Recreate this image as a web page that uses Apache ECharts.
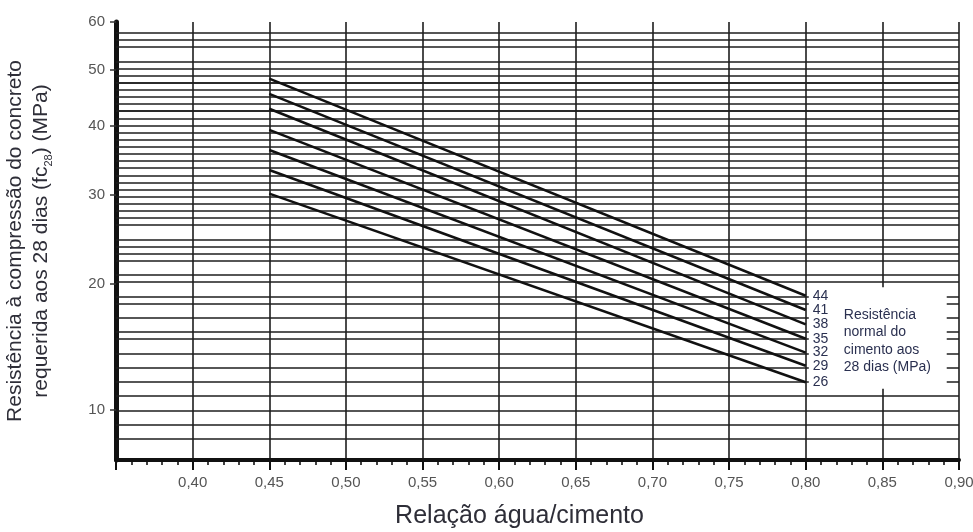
<!DOCTYPE html>
<html><head><meta charset="utf-8">
<script src="https://cdn.jsdelivr.net/npm/echarts@6/dist/echarts.min.js"></script>
<style>html,body{margin:0;padding:0;background:#fff}#c{width:973px;height:532px}</style>
</head><body><div id="c"></div>
<script>
// ---- data ----
const cementStrengths = ['44', '41', '38', '35', '32', '29', '26'];   // MPa, 28 days
const waterCementRatio = [0.45, 0.80];
const fcAtStart = [48.3, 45.5, 42.9, 39.4, 36.3, 33.4, 30.2];          // at a/c = 0.45
const fcAtEnd   = [18.9, 17.6, 16.35, 15.15, 14.05, 13.05, 11.85];      // at a/c = 0.80
const yTickLabels = [10, 20, 30, 40, 50, 60];
const xTickLabels = ['0,40', '0,45', '0,50', '0,55', '0,60', '0,65', '0,70', '0,75', '0,80', '0,85', '0,90'];
const gridValues = [7, 8, 9, 10, 11, 12, 13, 14, 15, 16, 17, 18, 19, 20, 21, 22, 23, 24, 25, 26, 27, 28, 29, 30,
  31, 32, 33, 34, 35, 36, 37, 38, 39, 40, 41, 42, 43, 44, 45, 46, 47, 48, 49, 50, 52, 54, 56, 58, 60];
const legendText = ['Resistência', 'normal do', 'cimento aos', '28 dias (MPa)'];

// ---- scale transform of the printed nomogram axis: log(fc + 10) ----
const OFFSET = 10;
const T = v => Math.log10(v + OFFSET);
const inv = t => Math.pow(10, t) - OFFSET;

const FONT = 'Liberation Sans, Arial, sans-serif';
const chart = echarts.init(document.getElementById('c'));

const lineSeries = cementStrengths.map((name, i) => ({
  name: name,
  type: 'line',
  z: 6,
  symbol: 'none',
  silent: true,
  lineStyle: { color: '#111', width: 2.6 },
  data: [[waterCementRatio[0], T(fcAtStart[i])], [waterCementRatio[1], T(fcAtEnd[i])]],
  endLabel: { show: true, formatter: '{a}', color: '#2a3050', fontSize: 14, fontFamily: FONT, distance: 7 }
}));

chart.setOption({
  animation: false,
  backgroundColor: '#fff',
  grid: { left: 116, right: 14, top: 22, bottom: 72, containLabel: false, outerBoundsMode: 'none' },
  xAxis: {
    type: 'value', min: 0.35, max: 0.90, interval: 0.05,
    name: 'Relação água/cimento', nameLocation: 'middle', nameGap: 44,
    nameTextStyle: { fontSize: 25, color: '#2e2e38', fontFamily: FONT, padding: [0, 36, 0, 0] },
    axisLine: { show: true, onZero: false, lineStyle: { color: '#111', width: 4 } },
    axisTick: { show: true, inside: false, length: 10, lineStyle: { color: '#111', width: 2 } },
    minorTick: { show: true, splitNumber: 5, length: 5, lineStyle: { color: '#111', width: 1.6 } },
    axisLabel: {
      color: '#555', fontSize: 15, fontFamily: FONT, margin: 15,
      formatter: v => { const k = Math.round((v - 0.40) / 0.05); return (k >= 0 && k < xTickLabels.length) ? xTickLabels[k] : ''; }
    },
    splitLine: { show: true, lineStyle: { color: '#1e1e1e', width: 1.6 } }
  },
  yAxis: {
    type: 'value', min: T(7), max: T(60),
    name: 'Resistência à compressão do concreto\nrequerida aos 28 dias (fc{sub|28}) (MPa)',
    nameLocation: 'middle', nameRotate: 90, nameGap: 62,
    nameTextStyle: {
      fontSize: 21, lineHeight: 26, color: '#2e2e38', fontFamily: FONT,
      rich: { sub: { fontSize: 11, lineHeight: 12, verticalAlign: 'bottom', color: '#2e2e38', fontFamily: FONT } }
    },
    axisLine: { show: true, onZero: false, lineStyle: { color: '#111', width: 5 } },
    axisTick: { show: true, inside: false, length: 6, customValues: yTickLabels.map(T), lineStyle: { color: '#333', width: 1.5 } },
    axisLabel: {
      customValues: yTickLabels.map(T), color: '#555', fontSize: 15, fontFamily: FONT, margin: 11,
      formatter: v => String(Math.round(inv(v)))
    },
    splitLine: { show: false }
  },
  series: [
    {
      name: 'grid', type: 'line', data: [], z: 1, silent: true,
      markLine: {
        silent: true, z: 1, symbol: ['none', 'none'], label: { show: false },
        lineStyle: { color: '#1e1e1e', width: 1.5, type: 'solid' },
        data: gridValues.map(v => ({ yAxis: T(v) }))
      }
    },
    {
      name: 'box', type: 'line', data: [], z: 4, silent: true,
      markArea: {
        silent: true, z: 4,
        itemStyle: { color: '#fff' },
        label: {
          show: true, position: 'insideLeft', distance: 35, offset: [0, 3],
          formatter: legendText.join('\n'), color: '#2a3050', fontSize: 14, lineHeight: 17.5, fontFamily: FONT, align: 'left'
        },
        data: [[{ xAxis: 0.802, yAxis: T(19.7) }, { xAxis: 0.892, yAxis: T(11.4) }]]
      }
    }
  ].concat(lineSeries)
});
</script>
</body></html>
